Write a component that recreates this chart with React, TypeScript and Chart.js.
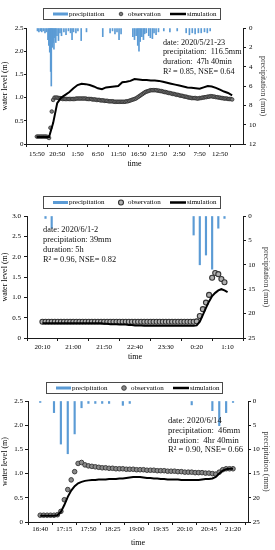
import React, { useEffect, useRef } from "react";
import { Chart, registerables } from "chart.js";

Chart.register(...registerables);

const FONT = '"Liberation Serif", "Times New Roman", serif';
const PRECIP_COLOR = "#5b9bd5";
const AXIS_COLOR = "#1a1a1a";
const legendLabels = ["precipitation", "observation", "simulation"];
const yTitle = "water level (m)";
const y1Title = "precipitation (mm)";
const xTitle = "time";

// ---------------- Event 1: 2020/5/21-23 (x in minutes from 15:50) ----------------
const xTicks1 = [0, 300, 600, 900, 1200, 1500, 1800, 2100, 2400, 2700];
const xLabels1 = ["15:50", "20:50", "1:50", "6:50", "11:50", "16:50", "21:50", "2:50", "7:50", "12:50"];
const obsStep1 = 20;
const obs1 = [
  0.16, 0.16, 0.16, 0.16, 0.16, 0.16, 0.16, 0.16,
  0.15, 0.13, 0.35, 0.7, 0.95, 1.0, 1.0, 1.0,
  0.99, 0.99, 0.98,
  0.97, 0.97, 0.97, 0.97, 0.97, 0.97, 0.97, 0.97, 0.97, 0.97, 0.98, 0.98,
  0.98, 0.98, 0.98, 0.98, 0.98, 0.98, 0.97, 0.97, 0.97, 0.97, 0.96, 0.96,
  0.96, 0.95, 0.95, 0.95, 0.94, 0.94, 0.94, 0.93, 0.93, 0.93, 0.92, 0.92,
  0.92, 0.92, 0.91, 0.91, 0.91, 0.91, 0.91, 0.91, 0.91, 0.91, 0.91, 0.92,
  0.92, 0.93, 0.94, 0.95, 0.96, 0.97, 0.98, 1.0, 1.02, 1.04, 1.06, 1.08,
  1.1, 1.12, 1.13, 1.14, 1.15, 1.16, 1.16, 1.16, 1.16, 1.16, 1.15, 1.15,
  1.14, 1.14, 1.13, 1.12, 1.12, 1.11, 1.1, 1.1, 1.09, 1.08, 1.08, 1.07,
  1.06, 1.06, 1.05, 1.04, 1.04, 1.03, 1.02, 1.02, 1.01, 1.0, 1.0, 0.99,
  0.99, 0.99, 0.99, 0.98, 0.98, 0.99, 0.99, 1.0, 1.0, 1.01, 1.01, 1.02,
  1.02, 1.03, 1.03, 1.02, 1.02, 1.01, 1.01, 1.0, 1.0, 0.99, 0.99, 0.98,
  0.98, 0.98, 0.97, 0.97, 0.97, 0.96,
];
const simStep1 = 60;
const sim1 = [
  0.15, 0.15, 0.15, 0.15, 0.45, 0.88, 1.0, 1.06, 1.12, 1.2, 1.27, 1.3, 1.29,
  1.27, 1.24, 1.2, 1.18, 1.22, 1.23, 1.24, 1.25, 1.33, 1.34, 1.36, 1.4, 1.39,
  1.38, 1.38, 1.37, 1.37, 1.36, 1.34, 1.32, 1.3, 1.28, 1.26, 1.24, 1.22, 1.21,
  1.2, 1.19, 1.22, 1.25, 1.24, 1.21, 1.17, 1.13, 1.1, 1.05,
];
const precipHour1 = [
  0.15, 0.5, 0.9, 1.2, 1.6, 2.0, 2.36, 2.73, 2.95, 3.17, 3.4, 3.55, 3.77, 3.99,
  4.2, 4.43, 4.65, 4.95, 5.32, 5.69, 6.06, 6.65, 7.17, 7.76, 8.28, 8.65, 9.02,
  9.6, 10.1, 10.9, 12.2, 16.2, 18.0, 18.6, 19.2, 19.7, 20.2, 20.7, 23.6, 24.0,
  24.4, 24.8, 25.1, 25.4, 25.8, 26.2, 26.5, 26.9, 27.5, 27.9, 28.4, 28.8, 29.3,
  29.9, 31.2, 32.7, 34.5, 36.7, 37.5, 38.2, 38.9, 39.7, 40.4, 41.2, 41.9, 42.6,
];
const precipMm1 = [
  0.3, 0.4, 0.3, 0.4, 0.3, 0.5, 0.4, 1.2, 1.8, 2.5, 4.5, 6.0, 2.0, 1.5,
  2.2, 1.0, 1.5, 0.8, 1.3, 0.5, 0.8, 0.4, 0.7, 0.3, 0.5, 1.2, 0.4,
  0.5, 0.3, 1.3, 0.4, 0.9, 0.5, 0.3, 0.6, 0.4, 1.2, 0.6, 0.9, 1.2,
  0.8, 1.8, 2.4, 1.4, 0.9, 1.2, 0.6, 0.5, 0.8, 1.0, 1.1, 0.5, 0.7,
  0.4, 0.3, 0.4, 0.3, 0.5, 0.7, 0.5, 0.6, 0.5, 0.5, 0.4, 0.5, 0.3,
];
const note1 = ["date: 2020/5/21-23", "precipitation:  116.5mm", "duration:  47h 40min", "R² = 0.85, NSE= 0.64"];

// ---------------- Event 2: 2020/6/1-2 (x in minutes from 20:10) ----------------
const xTicks2 = [0, 50, 100, 150, 200, 250, 300];
const xLabels2 = ["20:10", "21:00", "21:50", "22:40", "23:30", "0:20", "1:10"];
const obsStep2 = 5;
const obs2 = [
  0.4, 0.4, 0.4, 0.4, 0.4, 0.4, 0.4, 0.4, 0.4, 0.4,
  0.4, 0.4, 0.4, 0.4, 0.4, 0.4, 0.4, 0.4, 0.4, 0.4,
  0.4, 0.4, 0.4, 0.4, 0.4, 0.4, 0.4, 0.4, 0.4, 0.4,
  0.4, 0.4, 0.4, 0.4, 0.4, 0.4, 0.4, 0.4, 0.4, 0.4,
  0.4, 0.4, 0.4, 0.4, 0.4, 0.4, 0.4, 0.4, 0.4, 0.4,
  0.41, 0.54, 0.71, 0.87, 1.06, 1.48, 1.6, 1.57, 1.45, 1.37,
];
const simStep2 = 5;
const sim2 = [
  0.36, 0.36, 0.36, 0.36, 0.36, 0.36, 0.36, 0.36, 0.36, 0.36,
  0.36, 0.36, 0.36, 0.36, 0.36, 0.36, 0.36, 0.36, 0.36, 0.36,
  0.35, 0.35, 0.34, 0.34, 0.34, 0.33, 0.33, 0.33, 0.32, 0.32,
  0.31, 0.31, 0.31, 0.3, 0.3, 0.3, 0.3, 0.3, 0.3, 0.3,
  0.3, 0.3, 0.3, 0.3, 0.3, 0.3, 0.3, 0.3, 0.3, 0.3, 0.31,
  0.4, 0.57, 0.74, 0.9, 1.03, 1.11, 1.17, 1.2, 1.17, 1.13,
];
const precipMin2 = [5, 15, 245, 255, 265, 275, 285, 295];
const precipMm2 = [0.5, 2.5, 3.9, 10, 8, 10.9, 2.5, 0.5];
const note2 = ["date: 2020/6/1-2", "precipitation: 39mm", "duration: 5h", "R² = 0.96, NSE= 0.82"];

// ---------------- Event 3: 2020/6/14 (x in minutes from 16:40) ----------------
const xTicks3 = [0, 35, 70, 105, 140, 175, 210, 245, 280];
const xLabels3 = ["16:40", "17:15", "17:50", "18:25", "19:00", "19:35", "20:10", "20:45", "21:20"];
const obsStep3 = 5;
const obs3 = [
  0.14, 0.14, 0.14, 0.14, 0.14, 0.15, 0.22, 0.46, 0.67, 0.87,
  1.04, 1.21, 1.23, 1.18, 1.16, 1.15, 1.14, 1.13, 1.12, 1.12,
  1.11, 1.11, 1.1, 1.1, 1.1, 1.09, 1.09, 1.09, 1.08, 1.08,
  1.08, 1.07, 1.07, 1.07, 1.06, 1.06, 1.06, 1.05, 1.05, 1.05,
  1.04, 1.04, 1.03, 1.03, 1.03, 1.02, 1.02, 1.02, 1.01, 1.01,
  1.0, 0.99, 1.03, 1.08, 1.1, 1.1, 1.1,
];
const simStep3 = 5;
const sim3 = [
  0.13, 0.13, 0.13, 0.13, 0.13, 0.14, 0.21, 0.35, 0.52, 0.65,
  0.74, 0.8, 0.83, 0.85, 0.86, 0.87, 0.87, 0.88, 0.88, 0.88,
  0.89, 0.89, 0.89, 0.9, 0.9, 0.91, 0.92, 0.93, 0.93, 0.93,
  0.92, 0.91, 0.91, 0.9, 0.9, 0.89, 0.89, 0.88, 0.88, 0.88,
  0.88, 0.87, 0.87, 0.87, 0.87, 0.87, 0.87, 0.88, 0.89, 0.89,
  0.9, 0.93, 1.0, 1.06, 1.09, 1.1, 1.1,
];
const precipMin3 = [0, 20, 30, 40, 50, 60, 70, 80, 90, 100, 120, 130, 220, 250, 260, 270, 280];
const precipMm3 = [0.3, 2.4, 8.9, 10.9, 6.8, 1.4, 0.5, 0.5, 0.5, 0.5, 0.9, 0.5, 0.8, 2.0, 5.1, 2.4, 0.3];
const note3 = ["date: 2020/6/14", "precipitation:  46mm", "duration:  4hr 40min", "R² = 0.90, NSE= 0.66"];

type Pt = { x: number; y: number };
const stepSeries = (step: number, values: number[]): Pt[] => values.map((v, i) => ({ x: i * step, y: v }));
const pairSeries = (xs: number[], ys: number[], k = 1): Pt[] => xs.map((x, i) => ({ x: x * k, y: ys[i] }));

interface Spec {
  top: number;
  height: number;
  areaTop: number;
  leftW: number;
  rightW: number;
  bottomH: number;
  xMax: number;
  xTicks: number[];
  xLabels: string[];
  yMax: number;
  yStep: number;
  y1Max: number;
  y1Step: number;
  sim: Pt[];
  obs: Pt[];
  precip: Pt[];
  barW: number;
  simW: number;
  obsR: number;
  obsFill: string;
  obsStroke: string;
  obsStrokeW: number;
  leftTick: [number, number];
  rightTick: [number, number];
  bottomTick: [number, number];
  leftTitlePad: number;
  rightTitlePad: number;
  bottomTitlePad: number;
  legend: { x: number; y: number; w: number; h: number };
  note: { x: number; y: number; dy: number; size: number; lines: string[] };
}

const specs: Spec[] = [
  {
    top: 0, height: 180, areaTop: 28, leftW: 26, rightW: 32, bottomH: 36,
    xMax: 2880, xTicks: xTicks1, xLabels: xLabels1,
    yMax: 2.5, yStep: 0.5, y1Max: 12, y1Step: 2,
    sim: stepSeries(simStep1, sim1), obs: stepSeries(obsStep1, obs1), precip: pairSeries(precipHour1, precipMm1, 60),
    barW: 1, simW: 2, obsR: 1.8, obsFill: "#7f7f7f", obsStroke: "#2e2e2e", obsStrokeW: 0.8,
    leftTick: [2, 0.5], rightTick: [3, 3], bottomTick: [3, 2.8],
    leftTitlePad: 0.5, rightTitlePad: 7.5, bottomTitlePad: 11.5,
    legend: { x: 43, y: 8, w: 177, h: 11 },
    note: { x: 163, y: 42.7, dy: 9.6, size: 8.2, lines: note1 },
  },
  {
    top: 180, height: 188, areaTop: 36, leftW: 27, rightW: 32, bottomH: 30,
    xMax: 300, xTicks: xTicks2, xLabels: xLabels2,
    yMax: 3, yStep: 0.5, y1Max: 25, y1Step: 5,
    sim: stepSeries(simStep2, sim2), obs: stepSeries(obsStep2, obs2), precip: pairSeries(precipMin2, precipMm2),
    barW: 1.5, simW: 2, obsR: 2.5, obsFill: "#b0b0b0", obsStroke: "#333333", obsStrokeW: 1.1,
    leftTick: [3, 3], rightTick: [3, 2.3], bottomTick: [3, 1.8],
    leftTitlePad: 0.5, rightTitlePad: 3.8, bottomTitlePad: 6.5,
    legend: { x: 43, y: 16, w: 177, h: 12 },
    note: { x: 43, y: 50, dy: 10, size: 8.4, lines: note2 },
  },
  {
    top: 368, height: 182, areaTop: 33, leftW: 28, rightW: 27, bottomH: 28,
    xMax: 284, xTicks: xTicks3, xLabels: xLabels3,
    yMax: 2.5, yStep: 0.5, y1Max: 25, y1Step: 5,
    sim: stepSeries(simStep3, sim3), obs: stepSeries(obsStep3, obs3), precip: pairSeries(precipMin3, precipMm3),
    barW: 1.5, simW: 2, obsR: 2.3, obsFill: "#8a8a8a", obsStroke: "#333333", obsStrokeW: 0.9,
    leftTick: [3, 2], rightTick: [3, 1.7], bottomTick: [3, 0],
    leftTitlePad: 0.5, rightTitlePad: 3.8, bottomTitlePad: 2.5,
    legend: { x: 46, y: 14, w: 176, h: 11 },
    note: { x: 168, y: 53, dy: 9.7, size: 8.6, lines: note3 },
  },
];

function decorPlugin(spec: Spec) {
  return {
    id: "decor",
    afterDraw(chart: any) {
      const ctx: CanvasRenderingContext2D = chart.ctx;
      const { x, y, w, h } = spec.legend;
      ctx.save();
      // legend frame
      ctx.strokeStyle = "#4a4a4a";
      ctx.lineWidth = 1;
      ctx.strokeRect(x + 0.5, y + 0.5, w, h);
      const cy = y + h / 2 + 0.5;
      ctx.font = `7px ${FONT}`;
      ctx.textBaseline = "middle";
      ctx.textAlign = "left";
      ctx.fillStyle = PRECIP_COLOR;
      ctx.fillRect(x + 10, cy - 1.5, 15, 3);
      ctx.fillStyle = "#000";
      ctx.fillText(legendLabels[0], x + 26, cy);
      ctx.beginPath();
      ctx.arc(x + 78, cy, spec.obsR, 0, Math.PI * 2);
      ctx.fillStyle = spec.obsFill;
      ctx.fill();
      ctx.lineWidth = spec.obsStrokeW;
      ctx.strokeStyle = spec.obsStroke;
      ctx.stroke();
      ctx.fillStyle = "#000";
      ctx.fillText(legendLabels[1], x + 85, cy);
      ctx.beginPath();
      ctx.moveTo(x + 127, cy);
      ctx.lineTo(x + 143, cy);
      ctx.lineWidth = 2.5;
      ctx.strokeStyle = "#000";
      ctx.stroke();
      ctx.fillText(legendLabels[2], x + 144, cy);
      // annotation
      const n = spec.note;
      ctx.font = `${n.size}px ${FONT}`;
      ctx.fillStyle = "#111";
      n.lines.forEach((line, i) => ctx.fillText(line, n.x, n.y + i * n.dy));
      ctx.restore();
    },
  };
}

function buildConfig(spec: Spec): any {
  const tickFont = { family: FONT, size: 7 };
  const titleFont = { family: FONT, size: 8 };
  const grid = (len: number) => ({ display: true, drawOnChartArea: false, drawTicks: true, tickLength: len, color: AXIS_COLOR, lineWidth: 1 });
  const border = { display: true, color: AXIS_COLOR, width: 1 };
  return {
    type: "line",
    data: {
      datasets: [
        {
          type: "line", label: legendLabels[2], data: spec.sim, yAxisID: "y",
          borderColor: "#000", borderWidth: spec.simW, pointRadius: 0, tension: 0, fill: false, order: 0,
        },
        {
          type: "line", label: legendLabels[1], data: spec.obs, yAxisID: "y", showLine: false,
          pointRadius: spec.obsR, pointBackgroundColor: spec.obsFill, pointBorderColor: spec.obsStroke,
          pointBorderWidth: spec.obsStrokeW, order: 1,
        },
        {
          type: "bar", label: legendLabels[0], data: spec.precip, yAxisID: "y1",
          backgroundColor: PRECIP_COLOR, borderWidth: 0, barThickness: spec.barW, order: 2,
        },
      ],
    },
    options: {
      animation: false,
      responsive: false,
      devicePixelRatio: 1,
      events: [],
      layout: { padding: { top: spec.areaTop, left: 0, right: 0, bottom: 0 } },
      plugins: { legend: { display: false }, tooltip: { enabled: false } },
      scales: {
        x: {
          type: "linear", position: "bottom", min: 0, max: spec.xMax,
          afterBuildTicks: (s: any) => { s.ticks = spec.xTicks.map((v) => ({ value: v })); },
          afterFit: (s: any) => { s.height = spec.bottomH; },
          ticks: {
            autoSkip: false, maxRotation: 0, minRotation: 0, font: tickFont, color: "#000",
            padding: spec.bottomTick[1], callback: (_v: any, i: number) => spec.xLabels[i],
          },
          grid: grid(spec.bottomTick[0]),
          border,
          title: { display: true, text: xTitle, font: titleFont, color: "#000", padding: { top: 0, bottom: spec.bottomTitlePad } },
        },
        y: {
          type: "linear", position: "left", min: 0, max: spec.yMax,
          afterFit: (s: any) => { s.width = spec.leftW; },
          ticks: { stepSize: spec.yStep, font: tickFont, color: "#000", padding: spec.leftTick[1] },
          grid: grid(spec.leftTick[0]),
          border,
          title: { display: true, text: yTitle, font: titleFont, color: "#000", padding: { top: spec.leftTitlePad, bottom: 0 } },
        },
        y1: {
          type: "linear", position: "right", min: 0, max: spec.y1Max, reverse: true,
          afterFit: (s: any) => { s.width = spec.rightW; },
          ticks: { stepSize: spec.y1Step, font: tickFont, color: "#000", padding: spec.rightTick[1] },
          grid: grid(spec.rightTick[0]),
          border,
          title: { display: true, text: y1Title, font: titleFont, color: "#3a3a3a", padding: { top: spec.rightTitlePad, bottom: 0 } },
        },
      },
    },
    plugins: [decorPlugin(spec)],
  };
}

function Panel({ spec }: { spec: Spec }) {
  const ref = useRef<HTMLCanvasElement>(null);
  useEffect(() => {
    if (!ref.current) return;
    const chart = new Chart(ref.current, buildConfig(spec));
    return () => chart.destroy();
  }, [spec]);
  return (
    <canvas
      ref={ref}
      width={275}
      height={spec.height}
      style={{ position: "absolute", left: 0, top: spec.top, width: 275, height: spec.height }}
    />
  );
}

export default function App() {
  return (
    <div style={{ position: "absolute", left: 0, top: 0, width: 275, height: 550, background: "#fff" }}>
      {specs.map((s, i) => (
        <Panel key={i} spec={s} />
      ))}
    </div>
  );
}
